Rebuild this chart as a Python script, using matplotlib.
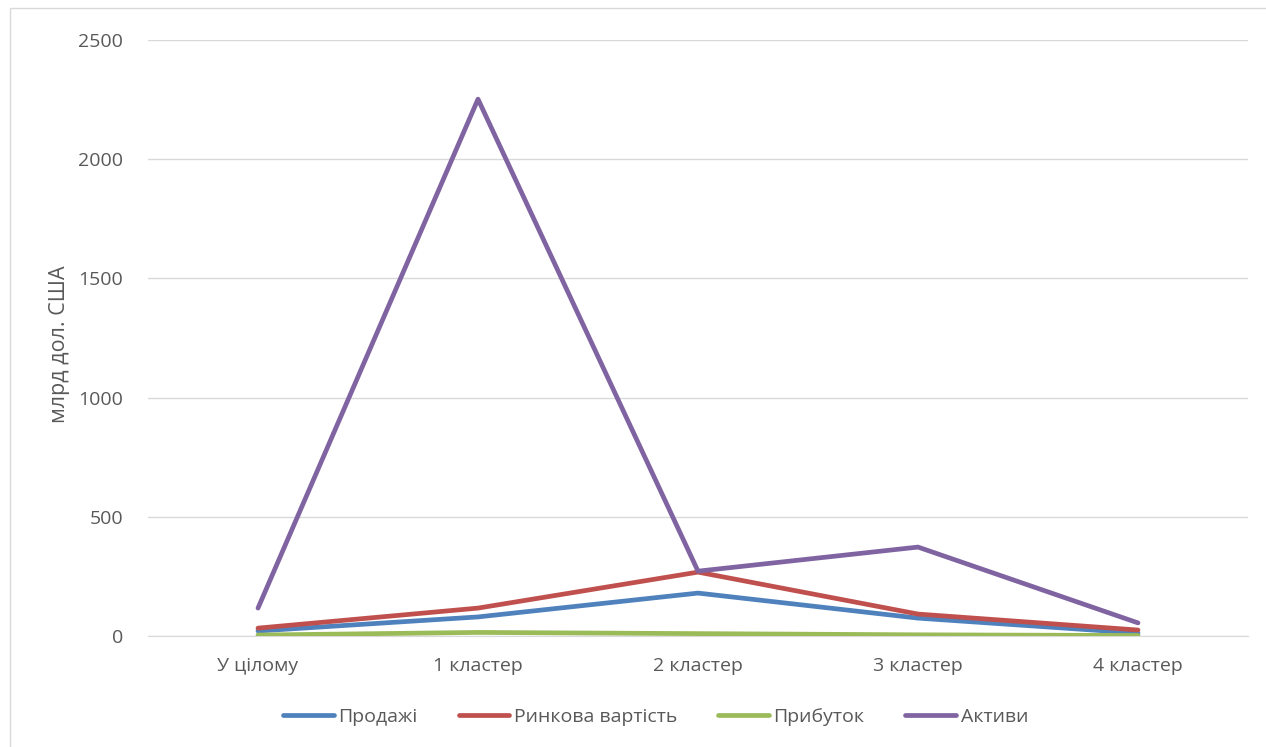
import matplotlib
matplotlib.use("Agg")
import matplotlib.pyplot as plt
from matplotlib.lines import Line2D

categories = ["У цілому", "1 кластер", "2 кластер", "3 кластер", "4 кластер"]
sales = [21, 80, 180, 75, 12]
market_value = [33, 117, 268, 92, 25]
profit = [4, 15, 10, 5, 2]
assets = [117, 2252, 272, 373, 55]
series_names = ["Продажі", "Ринкова вартість", "Прибуток", "Активи"]
colors = ["#4F81BD", "#C0504D", "#9BBB59", "#8064A2"]
yticks = [0, 500, 1000, 1500, 2000, 2500]

plt.rcParams['font.family'] = ['Open Sans', 'DejaVu Sans']

fig = plt.figure(figsize=(12.66, 7.47), dpi=100)
ax = fig.add_axes([148/1266, 1 - 636/747, 1100/1266, 596/747])

x = list(range(len(categories)))
for vals, name, c in zip([sales, market_value, profit, assets], series_names, colors):
    ax.plot(x, vals, color=c, lw=3.4, solid_capstyle='round', solid_joinstyle='round', label=name, zorder=3)

ax.set_xlim(-0.5, len(categories) - 0.5)
ax.set_ylim(0, 2500)
ax.set_yticks(yticks)
ax.set_yticklabels([str(v) for v in yticks], color="#595959", fontsize=14)
ax.set_xticks(x)
ax.set_xticklabels(categories, color="#595959", fontsize=14)
ax.tick_params(axis='x', length=0, pad=15)
ax.tick_params(axis='y', length=0, pad=18)
ax.grid(axis='y', color="#D9D9D9", lw=1, zorder=0)
for s in ["top", "right", "left"]:
    ax.spines[s].set_visible(False)
ax.spines["bottom"].set_color("#D9D9D9")
ax.set_ylabel("млрд дол. США", color="#595959", fontsize=15.5)
ax.yaxis.set_label_coords((70 - 148) / 1100, 0.49)

handles = [Line2D([0], [0], color=c, lw=3.4, solid_capstyle='round') for c in colors]
fig.legend(handles, series_names, loc="center", bbox_to_anchor=(0.518, 1 - 717/747), ncol=4,
           frameon=False, fontsize=14, handlelength=2.6, handletextpad=0.25, columnspacing=2.1,
           labelcolor="#595959")

border = plt.Rectangle((10/1266, -0.01), 1.02, 1 - 8/747 + 0.01, transform=fig.transFigure,
                       fill=False, edgecolor="#D9D9D9", lw=1)
fig.patches.append(border)

fig.savefig("out.png", dpi=100)
